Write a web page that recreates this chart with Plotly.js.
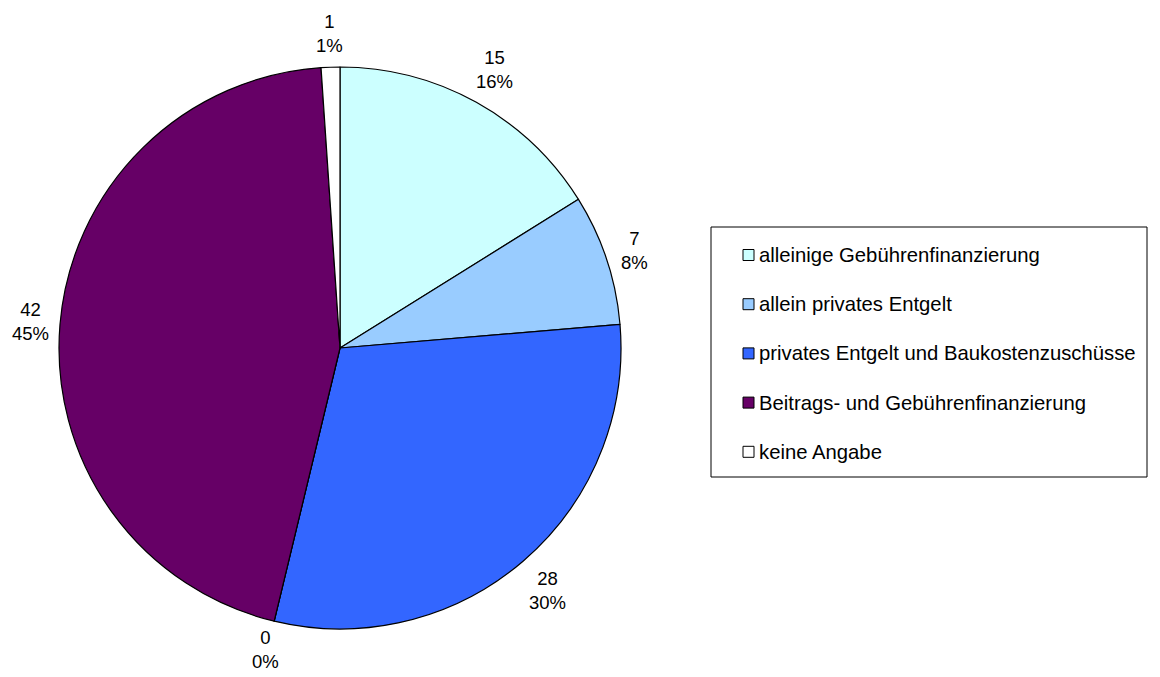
<!DOCTYPE html>
<html><head><meta charset="utf-8">
<script src="https://cdn.plot.ly/plotly-3.0.1.min.js"></script>
<style>html,body{margin:0;padding:0;background:#fff}#chart{width:1160px;height:677px}</style>
</head><body><div id="chart"></div>
<script>
const categories = ["alleinige Gebührenfinanzierung","allein privates Entgelt","privates Entgelt und Baukostenzuschüsse","sonstige","Beitrags- und Gebührenfinanzierung","keine Angabe"];
const values = [15, 7, 28, 0, 42, 1];
const colors = ["#CCFFFF","#99CCFF","#3366FF","#993366","#660066","#FFFFFF"];
const legendItems = [0,1,2,4,5];

const W = 1160, H = 677;
const font = "Liberation Sans, Arial, sans-serif";
const labelSize = 18.5, legendSize = 20.3;
// pie geometry (pixels)
const pieLeft = 59, pieRight = 621, pieTop = 67, pieBottom = 629;
const cx = (pieLeft + pieRight) / 2, cy = (pieTop + pieBottom) / 2, R = (pieRight - pieLeft) / 2;

const trace = {
  type: "pie", labels: categories, values: values, sort: false,
  direction: "clockwise", rotation: 0,
  marker: {colors: colors, line: {color: "#000", width: 1.2}},
  textinfo: "none",
  showlegend: false, hoverinfo: "label+value+percent",
  domain: {x: [pieLeft/W, pieRight/W], y: [1 - pieBottom/H, 1 - pieTop/H]}
};

const shapes = [{type:"rect", xref:"paper", yref:"paper", x0:711/W, x1:1147/W, y0:1-477/H, y1:1-227/H, line:{color:"#000",width:1}, fillcolor:"#fff"}];
const annotations = [];

// data labels (value + percent), placed outside each slice at its mid-angle
const total = values.reduce((a,b)=>a+b,0);
let cum = 0;
values.forEach((v,i)=>{
  const mid = (cum + v/2) / total * 2 * Math.PI;
  cum += v;
  const pct = Math.round(v/total*100) + "%";
  const lineW = s => [...s].reduce((w,c)=>w + (c==="%"?0.889:0.556), 0) * labelSize;
  const hw = Math.max(lineW(String(v)), lineW(pct)) / 2, hh = 21;
  const sx = Math.sin(mid), sy = -Math.cos(mid);
  const d = R + 12 + hw*Math.abs(sx)*0.85 + hh*Math.abs(sy);
  const px = cx + d*sx;
  const py = Math.min(cy + d*sy, H - 28);
  annotations.push({xref:"paper", yref:"paper", x:px/W, y:1-py/H, xanchor:"center", yanchor:"middle", showarrow:false, borderpad:0,
    text: v + "<br>" + pct, align:"center", font:{family:font, size:labelSize, color:"#000"}});
});

legendItems.forEach((idx,i)=>{
  const yc = 255 + i*49.2;
  shapes.push({type:"rect", xref:"paper", yref:"paper", x0:743/W, x1:754/W, y0:1-(yc+5.5)/H, y1:1-(yc-5.5)/H, line:{color:"#000",width:1}, fillcolor:colors[idx]});
  annotations.push({xref:"paper", yref:"paper", x:757/W, y:1-yc/H, xanchor:"left", yanchor:"middle", showarrow:false, text:categories[idx], font:{family:font, size:legendSize, color:"#000"}});
});
const layout = {width:W, height:H, margin:{l:0,r:0,t:0,b:0}, paper_bgcolor:"#fff", shapes, annotations, showlegend:false};
Plotly.newPlot("chart", [trace], layout, {displayModeBar:false, staticPlot:true});
</script></body></html>
